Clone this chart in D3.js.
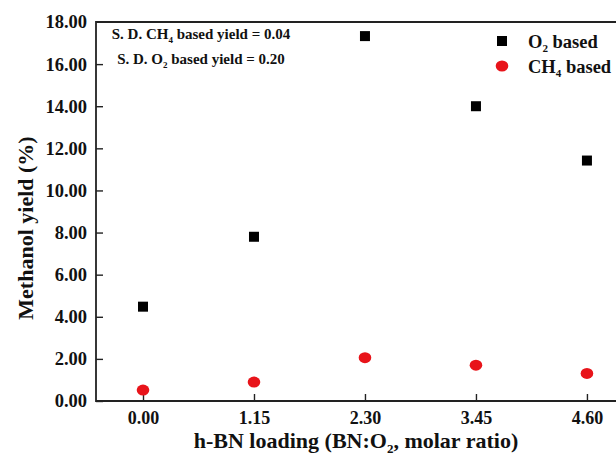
<!DOCTYPE html>
<html>
<head>
<meta charset="utf-8">
<script src="https://cdn.jsdelivr.net/npm/d3@7"></script>
<style>
  body { margin: 0; background: #fff; }
  svg { display: block; font-family: "Liberation Serif", "Times New Roman", serif; font-weight: bold; }
</style>
</head>
<body>
<svg id="chart" width="616" height="455"></svg>
<script>
const loadings = [0.00, 1.15, 2.30, 3.45, 4.60];
const o2Based = [4.48, 7.8, 17.33, 14.0, 11.42];
const ch4Based = [0.52, 0.9, 2.06, 1.7, 1.31];
const yTicks = [0, 2, 4, 6, 8, 10, 12, 14, 16, 18];

var svg = d3.select("#chart");
var m = {left: 96, top: 22, bottom: 401, right: 660};

var x = d3.scaleLinear().domain([-0.487, 5.357]).range([m.left, m.right]);
var y = d3.scaleLinear().domain([0, 18]).range([m.bottom, m.top]);

// frame (right side runs off the picture)
svg.append("path")
    .attr("d", "M" + m.right + "," + m.top + "H" + m.left + "V" + m.bottom + "H" + m.right)
    .attr("fill", "none")
    .attr("stroke", "#222")
    .attr("stroke-width", 1.8);

var yAxis = svg.append("g")
    .attr("transform", "translate(" + m.left + ",0)")
    .call(d3.axisLeft(y).tickValues(yTicks).tickSizeInner(-7).tickSizeOuter(0).tickPadding(9)
        .tickFormat(d => d.toFixed(2)));
yAxis.select(".domain").remove();
yAxis.selectAll(".tick line").attr("stroke", "#222").attr("stroke-width", 1.4)
    .filter(d => d === 18).remove();
yAxis.selectAll("text").attr("font-size", 18.5).attr("fill", "#111")
    .attr("font-family", "Liberation Serif").attr("font-weight", "bold");

var xAxis = svg.append("g")
    .attr("transform", "translate(0," + m.bottom + ")")
    .call(d3.axisBottom(x).tickValues(loadings).tickSizeInner(-7).tickSizeOuter(0).tickPadding(10)
        .tickFormat(d => d.toFixed(2)));
xAxis.select(".domain").remove();
xAxis.selectAll(".tick line").attr("stroke", "#222").attr("stroke-width", 1.4);
xAxis.selectAll("text").attr("font-size", 18).attr("fill", "#111")
    .attr("font-family", "Liberation Serif").attr("font-weight", "bold");

// axis titles
svg.append("text")
    .attr("transform", "translate(33,228) rotate(-90)")
    .attr("text-anchor", "middle")
    .attr("font-size", 22)
    .attr("fill", "#111")
    .text("Methanol yield (%)");

var xt = svg.append("text")
    .attr("x", 356).attr("y", 448)
    .attr("text-anchor", "middle")
    .attr("font-size", 22)
    .attr("fill", "#111");
xt.append("tspan").text("h-BN loading (BN:O");
xt.append("tspan").attr("font-size", 13).attr("dy", 5).text("2");
xt.append("tspan").attr("dy", -5).text(", molar ratio)");

// data marks
svg.selectAll("rect.o2")
    .data(loadings)
    .enter().append("rect")
    .attr("class", "o2")
    .attr("x", d => x(d) - 5)
    .attr("y", (d, i) => y(o2Based[i]) - 5)
    .attr("width", 10).attr("height", 10)
    .attr("fill", "#000");

svg.selectAll("ellipse.ch4")
    .data(loadings)
    .enter().append("ellipse")
    .attr("class", "ch4")
    .attr("cx", d => x(d))
    .attr("cy", (d, i) => y(ch4Based[i]))
    .attr("rx", 6.3).attr("ry", 5.5)
    .attr("fill", "#e8141a");

// annotations
function subText(xp, yp, parts, size, anchor) {
    var t = svg.append("text").attr("x", xp).attr("y", yp)
        .attr("font-size", size).attr("fill", "#111")
        .attr("text-anchor", anchor || "start");
    parts.forEach(p => {
        if (p.sub) t.append("tspan").attr("dy", 4).attr("font-size", size * 0.6).text(p.sub);
        else t.append("tspan").attr("dy", p.after ? -4 : 0).text(p.t);
    });
    return t;
}
subText(201, 39, [{t: "S. D. CH"}, {sub: "4"}, {t: " based yield = 0.04", after: true}], 15, "middle");
subText(201, 64, [{t: "S. D. O"}, {sub: "2"}, {t: " based yield = 0.20", after: true}], 15, "middle");

// legend
svg.append("rect").attr("x", 497).attr("y", 36).attr("width", 10).attr("height", 10).attr("fill", "#000");
svg.append("ellipse").attr("cx", 502).attr("cy", 66).attr("rx", 6.3).attr("ry", 5.5).attr("fill", "#e8141a");
subText(528, 48, [{t: "O"}, {sub: "2"}, {t: " based", after: true}], 18.5);
subText(528, 73, [{t: "CH"}, {sub: "4"}, {t: " based", after: true}], 18.5);
</script>
</body>
</html>
